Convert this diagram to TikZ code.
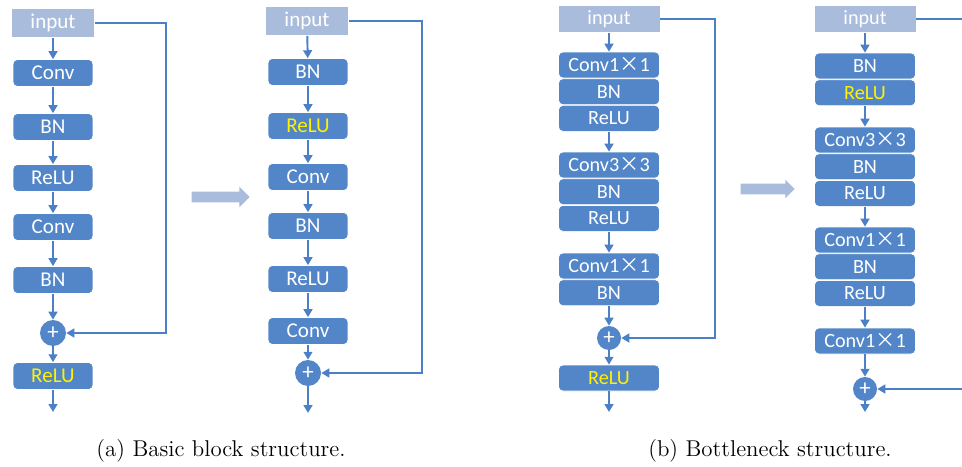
\documentclass[tikz,border=0pt]{standalone}
\usepackage{fontspec}
\usepackage{xcolor}
\usepackage{tikz}
\usetikzlibrary{arrows.meta, positioning, shapes.arrows}
\newfontfamily\blkfont{Carlito}
\newfontfamily\cjkfont{Noto Sans CJK SC}
\newcommand{\timesx}{{\cjkfont ×}}
\definecolor{boxblue}{RGB}{82,134,200}
\definecolor{inblue}{RGB}{169,188,220}
\definecolor{lineblue}{RGB}{76,128,198}

\begin{document}
\begin{tikzpicture}[
      x=0.02cm, y=-0.02cm,
      blk/.style={fill=boxblue, draw=white, line width=0.4pt, rounded corners=2.5pt,
                  text=white, inner sep=0pt, font=\blkfont\fontsize{12}{14}\selectfont,
                  minimum width=1.6cm, minimum height=0.54cm},
      bblk/.style={blk, minimum width=2.02cm, minimum height=0.52cm,
                   font=\blkfont\fontsize{11.5}{14}\selectfont},
      inp/.style={blk, fill=inblue, draw=none, rounded corners=0pt,
                  minimum width=1.66cm, minimum height=0.58cm},
      binp/.style={inp, minimum width=2.02cm, minimum height=0.54cm,
                   font=\blkfont\fontsize{11.5}{14}\selectfont},
      add/.style={circle, fill=boxblue, text=white, inner sep=0pt,
                  minimum size=0.52cm, font=\blkfont\fontsize{13}{14}\selectfont},
      arr/.style={-{Triangle[length=4.5pt, width=5pt]}, draw=lineblue, line width=1.1pt},
      skipline/.style={arr, rounded corners=0pt},
      hl/.style={text=yellow},
      bigarrow/.style={single arrow, fill=inblue, draw=none, minimum height=1.16cm,
                    minimum width=0pt, inner xsep=0pt, inner ysep=0.1cm,
                    single arrow head extend=0.1cm},
      captxt/.style={font=\fontsize{13}{15}\selectfont}
    ]
    \useasboundingbox (0,0) rectangle (962,466);
    \clip (0,0) rectangle (962,466);

    % (a) original basic block
    \node[inp] (a0) at (53,23) {input};
    \node[blk] (a1) at (53,73)  {Conv};
    \node[blk] (a2) at (53,127) {BN};
    \node[blk] (a3) at (53,178) {ReLU};
    \node[blk] (a4) at (53,227) {Conv};
    \node[blk] (a5) at (53,280) {BN};
    \node[add] (aplus) at (53,333) {+};
    \node[blk, hl] (a6) at (53,376) {ReLU};
    \coordinate (aout) at (53,412);
    \coordinate (askip) at (166,23);

    \foreach \u/\v in {a0/a1, a1/a2, a2/a3, a3/a4, a4/a5, a5/aplus, aplus/a6, a6/aout}
      \draw[arr] (\u) -- (\v);
    \draw[skipline] (a0.east) -- (askip) |- (aplus.east);

    % (a) pre-activation block
    \node[inp] (b0) at (307,21) {input};
    \node[blk] (b1) at (308,72)  {BN};
    \node[blk, hl] (b2) at (308,126) {ReLU};
    \node[blk] (b3) at (308,177) {Conv};
    \node[blk] (b4) at (308,226) {BN};
    \node[blk] (b5) at (308,279) {ReLU};
    \node[blk] (b6) at (308,331) {Conv};
    \node[add] (bplus) at (308,373) {+};
    \coordinate (bout) at (308,413);
    \coordinate (bskip) at (422,21);

    \foreach \u/\v in {b0/b1, b1/b2, b2/b3, b3/b4, b4/b5, b5/b6, b6/bplus, bplus/bout}
      \draw[arr] (\u) -- (\v);
    \draw[skipline] (b0.east) -- (bskip) |- (bplus.east);

    \node[bigarrow] (sa) at (218,197) {};

    % (b) original bottleneck
    \node[binp] (c0) at (609,19) {input};
    \node[bblk] (c1) at (609,65)  {Conv1\timesx1};
    \node[bblk, below=0pt of c1] (c2) {BN};
    \node[bblk, below=0pt of c2] (c3) {ReLU};
    \node[bblk] (c4) at (609,165) {Conv3\timesx3};
    \node[bblk, below=0pt of c4] (c5) {BN};
    \node[bblk, below=0pt of c5] (c6) {ReLU};
    \node[bblk] (c7) at (609,266) {Conv1\timesx1};
    \node[bblk, below=0pt of c7] (c8) {BN};
    \node[add, minimum size=0.48cm] (cplus) at (609,338) {+};
    \node[bblk, hl] (c9) at (609,378) {ReLU};
    \coordinate (cout) at (609,412);
    \coordinate (cskip) at (715,19);

    \foreach \u/\v in {c0/c1, c3/c4, c6/c7, c8/cplus, cplus/c9, c9/cout}
      \draw[arr] (\u) -- (\v);
    \draw[skipline] (c0.east) -- (cskip) |- (cplus.east);

    % (b) pre-activation bottleneck
    \node[binp] (d0) at (865,19) {input};
    \node[bblk] (d1) at (865,66)  {BN};
    \node[bblk, hl, below=0pt of d1] (d2) {ReLU};
    \node[bblk] (d3) at (865,140) {Conv3\timesx3};
    \node[bblk, below=0pt of d3] (d4) {BN};
    \node[bblk, below=0pt of d4] (d5) {ReLU};
    \node[bblk] (d6) at (865,240) {Conv1\timesx1};
    \node[bblk, below=0pt of d6] (d7) {BN};
    \node[bblk, below=0pt of d7] (d8) {ReLU};
    \node[bblk] (d9) at (865,341) {Conv1\timesx1};
    \node[add, minimum size=0.48cm] (dplus) at (865,389) {+};
    \coordinate (dout) at (865,412);
    \coordinate (dskip) at (985,19);

    \foreach \u/\v in {d0/d1, d2/d3, d5/d6, d8/d9, d9/dplus, dplus/dout}
      \draw[arr] (\u) -- (\v);
    \draw[skipline] (d0.east) -- (dskip) |- (dplus.east);

    \node[bigarrow, minimum height=1.08cm, single arrow head extend=0.08cm] (sb) at (765,189) {};

    % captions
    \node[captxt] (capa) at (221,451) {(a) Basic block structure.};
    \node[captxt] (capb) at (770,451) {(b) Bottleneck structure.};
  \end{tikzpicture}
\end{document}
